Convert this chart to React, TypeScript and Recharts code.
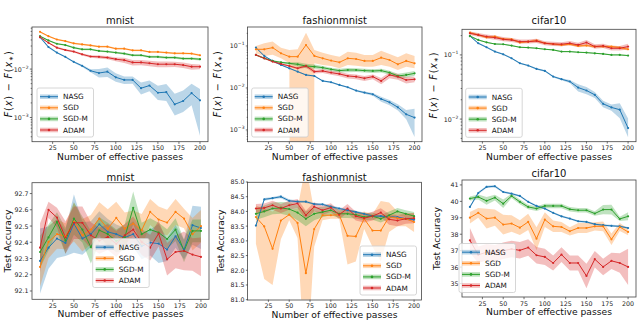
import React from 'react';
import { ComposedChart, Line, Area, XAxis, YAxis } from 'recharts';

// ---------- shared ----------
const PASSES = [10, 20, 30, 40, 50, 60, 70, 80, 90, 100, 110, 120, 130, 140, 150, 160, 170, 180, 190, 200];
const X_TICKS = [25, 50, 75, 100, 125, 150, 175, 200];
const NAMES = ['NASG', 'SGD', 'SGD-M', 'ADAM'];
const COLORS = ['#1f77b4', '#ff7f0e', '#2ca02c', '#d62728'];
const TITLES = ['mnist', 'fashionmnist', 'cifar10'];
const X_LABEL = 'Number of effective passes';
const ACC_LABEL = 'Test Accuracy';

// ---------- mnist loss (log) ----------
const mnistLossNasg = [0.0457, 0.0286, 0.0219, 0.0179, 0.0141, 0.0117, 0.00925, 0.00829, 0.00883, 0.00676, 0.00597, 0.00597, 0.00403, 0.00457, 0.00324, 0.00334, 0.00187, 0.00219, 0.00319, 0.00226];
const mnistLossNasgLo = [0.0435, 0.0272, 0.021, 0.0172, 0.0135, 0.0111, 0.0086, 0.0067, 0.0069, 0.0055, 0.0049, 0.005, 0.003, 0.0035, 0.0023, 0.0022, 0.0011, 0.0013, 0.0018, 0.00042];
const mnistLossNasgHi = [0.048, 0.03, 0.0228, 0.0186, 0.0147, 0.0123, 0.0099, 0.01, 0.0108, 0.0082, 0.007, 0.007, 0.0053, 0.0058, 0.0045, 0.0049, 0.0031, 0.0036, 0.005, 0.0039];
const mnistLossSgd = [0.0588, 0.0479, 0.0409, 0.0379, 0.034, 0.0324, 0.0309, 0.0291, 0.0291, 0.0264, 0.0264, 0.0244, 0.0244, 0.0226, 0.0226, 0.0219, 0.0212, 0.0212, 0.0209, 0.0193];
const mnistLossSgdLo = [0.0566, 0.0461, 0.0393, 0.0365, 0.0327, 0.0311, 0.0297, 0.028, 0.0279, 0.0253, 0.0253, 0.0234, 0.0234, 0.0217, 0.0217, 0.021, 0.0203, 0.0203, 0.02, 0.0184];
const mnistLossSgdHi = [0.061, 0.0497, 0.0425, 0.0393, 0.0353, 0.0337, 0.0321, 0.0302, 0.0303, 0.0275, 0.0275, 0.0254, 0.0254, 0.0235, 0.0235, 0.0228, 0.0221, 0.0221, 0.0218, 0.0202];
const mnistLossSgdm = [0.0479, 0.0391, 0.0334, 0.0314, 0.0277, 0.0256, 0.0256, 0.0237, 0.023, 0.0219, 0.0209, 0.0193, 0.0193, 0.0179, 0.0179, 0.0173, 0.0173, 0.0165, 0.0165, 0.016];
const mnistLossSgdmLo = [0.0461, 0.0377, 0.0322, 0.0302, 0.0266, 0.0246, 0.0245, 0.0227, 0.022, 0.0209, 0.0199, 0.0184, 0.0184, 0.017, 0.017, 0.0164, 0.0164, 0.0156, 0.0156, 0.0151];
const mnistLossSgdmHi = [0.0497, 0.0405, 0.0346, 0.0326, 0.0288, 0.0266, 0.0267, 0.0247, 0.024, 0.0229, 0.0219, 0.0202, 0.0202, 0.0188, 0.0188, 0.0182, 0.0182, 0.0174, 0.0174, 0.0169];
const mnistLossAdam = [0.0457, 0.035, 0.0277, 0.0248, 0.023, 0.0202, 0.0182, 0.0179, 0.0173, 0.016, 0.0153, 0.0137, 0.0137, 0.0132, 0.0126, 0.0126, 0.0126, 0.0121, 0.0112, 0.0112];
const mnistLossAdamLo = [0.0442, 0.0338, 0.0266, 0.0237, 0.0219, 0.0191, 0.0171, 0.0166, 0.016, 0.0146, 0.0134, 0.0119, 0.012, 0.0115, 0.0109, 0.0109, 0.011, 0.0105, 0.0097, 0.0099];
const mnistLossAdamHi = [0.0472, 0.0362, 0.0288, 0.0259, 0.0241, 0.0213, 0.0193, 0.0192, 0.0186, 0.0174, 0.0172, 0.0155, 0.0154, 0.0149, 0.0143, 0.0143, 0.0142, 0.0137, 0.0127, 0.0125];

// ---------- fashionmnist loss (log) ----------
const fashionLossNasg = [0.0912, 0.0578, 0.044, 0.0353, 0.0294, 0.0245, 0.0204, 0.0193, 0.0147, 0.0137, 0.0118, 0.0104, 0.00865, 0.00775, 0.00707, 0.00547, 0.00456, 0.00347, 0.00236, 0.00197];
const fashionLossNasgLo = [0.0875, 0.0556, 0.0425, 0.0341, 0.0284, 0.0236, 0.0196, 0.0186, 0.0141, 0.0132, 0.0113, 0.01, 0.0082, 0.0073, 0.0065, 0.0047, 0.0039, 0.0029, 0.0018, 0.00068];
const fashionLossNasgHi = [0.095, 0.06, 0.0455, 0.0365, 0.0304, 0.0254, 0.0212, 0.02, 0.0153, 0.0142, 0.0123, 0.0108, 0.0091, 0.0082, 0.0076, 0.0062, 0.0052, 0.0041, 0.003, 0.0032];
const fashionLossSgd = [0.0833, 0.0833, 0.0912, 0.0669, 0.0557, 0.0557, 0.1056, 0.0578, 0.0508, 0.0448, 0.0408, 0.0508, 0.049, 0.044, 0.044, 0.0527, 0.0464, 0.0366, 0.044, 0.0386];
const fashionLossSgdLo = [0.0669, 0.0578, 0.062, 0.0508, 0.0386, 0, 0, 0.0386, 0.0353, 0.0334, 0.0294, 0.0353, 0.034, 0.0322, 0.0322, 0.0353, 0.0322, 0.0268, 0.0322, 0.0294];
const fashionLossSgdHi = [0.1, 0.116, 0.127, 0.0912, 0.08, 0.0833, 0.2075, 0.08, 0.0693, 0.0611, 0.0557, 0.0733, 0.0693, 0.0611, 0.0611, 0.0774, 0.0645, 0.0537, 0.0669, 0.0578];
const fashionLossSgdm = [0.0611, 0.0508, 0.044, 0.0408, 0.0386, 0.0366, 0.0334, 0.0322, 0.0305, 0.0278, 0.0259, 0.0268, 0.0268, 0.0259, 0.0254, 0.0259, 0.0232, 0.0193, 0.0204, 0.0223];
const fashionLossSgdmLo = [0.0585, 0.0488, 0.042, 0.0388, 0.036, 0.0325, 0.0295, 0.0286, 0.0277, 0.0252, 0.0232, 0.0238, 0.024, 0.0233, 0.0228, 0.0233, 0.0207, 0.0168, 0.0178, 0.0192];
const fashionLossSgdmHi = [0.064, 0.053, 0.046, 0.0428, 0.0412, 0.041, 0.0375, 0.036, 0.0335, 0.0305, 0.0288, 0.0298, 0.0295, 0.0285, 0.028, 0.0285, 0.0258, 0.0218, 0.0232, 0.0255];
const fashionLossAdam = [0.0611, 0.0508, 0.0424, 0.0373, 0.0334, 0.0294, 0.0334, 0.0245, 0.0254, 0.0232, 0.0216, 0.0193, 0.0186, 0.017, 0.0186, 0.0147, 0.0204, 0.0186, 0.0155, 0.0161];
const fashionLossAdamLo = [0.0585, 0.0488, 0.0406, 0.0354, 0.0316, 0.0278, 0.0303, 0.022, 0.0228, 0.0207, 0.019, 0.0168, 0.0162, 0.0146, 0.0162, 0.0122, 0.017, 0.0157, 0.0128, 0.0137];
const fashionLossAdamHi = [0.064, 0.053, 0.0442, 0.0392, 0.0352, 0.031, 0.0365, 0.027, 0.028, 0.0257, 0.0242, 0.0218, 0.021, 0.0194, 0.021, 0.0172, 0.0238, 0.0215, 0.0182, 0.0185];

// ---------- cifar10 loss (log) ----------
const cifarLossNasg = [0.197, 0.152, 0.1316, 0.1127, 0.1023, 0.0887, 0.0742, 0.0682, 0.0606, 0.0564, 0.046, 0.0418, 0.0385, 0.031, 0.0279, 0.0239, 0.0173, 0.0152, 0.014, 0.00724];
const cifarLossNasgLo = [0.192, 0.148, 0.128, 0.1097, 0.0996, 0.0864, 0.0722, 0.0664, 0.0587, 0.0548, 0.0445, 0.0404, 0.0365, 0.027, 0.0243, 0.0214, 0.0153, 0.0135, 0.0103, 0.0052];
const cifarLossNasgHi = [0.202, 0.156, 0.135, 0.1157, 0.105, 0.091, 0.0762, 0.07, 0.0625, 0.058, 0.0475, 0.0432, 0.0405, 0.035, 0.0315, 0.0264, 0.0193, 0.0169, 0.0177, 0.0102];
const cifarLossSgd = [0.222, 0.205, 0.188, 0.193, 0.177, 0.175, 0.156, 0.161, 0.167, 0.152, 0.148, 0.143, 0.1466, 0.138, 0.1396, 0.1349, 0.1349, 0.1349, 0.13, 0.1225];
const cifarLossSgdLo = [0.213, 0.197, 0.18, 0.185, 0.17, 0.168, 0.15, 0.155, 0.158, 0.146, 0.142, 0.137, 0.141, 0.132, 0.134, 0.129, 0.129, 0.129, 0.124, 0.117];
const cifarLossSgdHi = [0.231, 0.213, 0.196, 0.202, 0.184, 0.182, 0.163, 0.168, 0.177, 0.159, 0.154, 0.149, 0.153, 0.144, 0.146, 0.141, 0.141, 0.141, 0.136, 0.128];
const cifarLossSgdm = [0.197, 0.171, 0.157, 0.148, 0.1466, 0.1396, 0.1316, 0.13, 0.127, 0.1225, 0.1197, 0.1127, 0.1127, 0.11, 0.1087, 0.106, 0.1037, 0.1, 0.1, 0.0977];
const cifarLossSgdmLo = [0.193, 0.168, 0.154, 0.145, 0.1437, 0.1368, 0.129, 0.1274, 0.1245, 0.12, 0.1173, 0.1104, 0.1104, 0.1078, 0.1065, 0.1039, 0.1016, 0.098, 0.098, 0.0957];
const cifarLossSgdmHi = [0.201, 0.175, 0.16, 0.151, 0.1495, 0.1424, 0.1342, 0.1326, 0.1295, 0.125, 0.1221, 0.115, 0.115, 0.1122, 0.1109, 0.1081, 0.1058, 0.102, 0.102, 0.0997];
const cifarLossAdam = [0.217, 0.205, 0.193, 0.186, 0.175, 0.171, 0.161, 0.161, 0.165, 0.152, 0.148, 0.1466, 0.152, 0.143, 0.156, 0.1349, 0.138, 0.127, 0.127, 0.1349];
const cifarLossAdamLo = [0.204, 0.192, 0.18, 0.173, 0.163, 0.159, 0.15, 0.15, 0.153, 0.141, 0.138, 0.136, 0.141, 0.133, 0.143, 0.125, 0.128, 0.117, 0.117, 0.122];
const cifarLossAdamHi = [0.232, 0.219, 0.208, 0.2, 0.19, 0.184, 0.174, 0.174, 0.178, 0.164, 0.16, 0.158, 0.165, 0.155, 0.171, 0.146, 0.149, 0.138, 0.138, 0.149];

// ---------- mnist accuracy ----------
const mnistAccNasg = [92.285, 92.367, 92.423, 92.396, 92.515, 92.423, 92.45, 92.511, 92.464, 92.45, 92.429, 92.45, 92.376, 92.398, 92.392, 92.355, 92.437, 92.355, 92.505, 92.488];
const mnistAccNasgLo = [92.085, 92.237, 92.303, 92.316, 92.335, 92.323, 92.37, 92.431, 92.384, 92.39, 92.369, 92.37, 92.296, 92.318, 92.272, 92.285, 92.367, 92.295, 92.385, 92.358];
const mnistAccNasgHi = [92.485, 92.497, 92.543, 92.476, 92.695, 92.523, 92.53, 92.591, 92.544, 92.51, 92.489, 92.53, 92.456, 92.478, 92.512, 92.425, 92.507, 92.415, 92.625, 92.618];
const mnistAccSgd = [92.248, 92.402, 92.45, 92.437, 92.525, 92.443, 92.478, 92.546, 92.484, 92.55, 92.484, 92.515, 92.474, 92.587, 92.54, 92.521, 92.587, 92.546, 92.45, 92.499];
const mnistAccSgdLo = [92.128, 92.302, 92.36, 92.357, 92.405, 92.343, 92.388, 92.446, 92.364, 92.45, 92.384, 92.435, 92.374, 92.507, 92.46, 92.441, 92.507, 92.486, 92.35, 92.399];
const mnistAccSgdHi = [92.368, 92.502, 92.54, 92.517, 92.645, 92.543, 92.568, 92.646, 92.604, 92.65, 92.584, 92.595, 92.574, 92.667, 92.62, 92.601, 92.667, 92.606, 92.55, 92.599];
const mnistAccSgdm = [92.34, 92.43, 92.525, 92.41, 92.546, 92.478, 92.37, 92.474, 92.45, 92.408, 92.43, 92.612, 92.45, 92.478, 92.46, 92.42, 92.478, 92.347, 92.47, 92.47];
const mnistAccSgdmLo = [92.24, 92.35, 92.465, 92.33, 92.446, 92.398, 92.27, 92.394, 92.38, 92.338, 92.35, 92.512, 92.38, 92.408, 92.4, 92.36, 92.408, 92.277, 92.4, 92.4];
const mnistAccSgdmHi = [92.44, 92.51, 92.585, 92.49, 92.646, 92.558, 92.47, 92.554, 92.52, 92.478, 92.51, 92.712, 92.52, 92.548, 92.52, 92.48, 92.548, 92.417, 92.54, 92.54];
const mnistAccAdam = [92.367, 92.6, 92.552, 92.43, 92.52, 92.52, 92.443, 92.41, 92.433, 92.39, 92.443, 92.478, 92.402, 92.367, 92.454, 92.295, 92.34, 92.347, 92.324, 92.31];
const mnistAccAdamLo = [92.217, 92.55, 92.492, 92.33, 92.42, 92.42, 92.363, 92.33, 92.353, 92.31, 92.373, 92.398, 92.322, 92.287, 92.374, 92.195, 92.24, 92.227, 92.224, 92.19];
const mnistAccAdamHi = [92.517, 92.65, 92.612, 92.53, 92.62, 92.62, 92.523, 92.49, 92.513, 92.47, 92.513, 92.558, 92.482, 92.447, 92.534, 92.395, 92.44, 92.467, 92.424, 92.43];

// ---------- fashionmnist accuracy ----------
const fashionAccNasg = [83.52, 84.41, 84.45, 84.5, 84.36, 84.33, 84.33, 84.25, 84.24, 84.16, 84.1, 84.04, 83.98, 83.92, 83.84, 83.84, 83.81, 83.81, 83.75, 83.72];
const fashionAccNasgLo = [83.46, 84.36, 84.41, 84.45, 84.31, 84.29, 84.29, 84.21, 84.2, 84.12, 84.06, 84.0, 83.94, 83.88, 83.8, 83.8, 83.77, 83.77, 83.71, 83.67];
const fashionAccNasgHi = [83.58, 84.46, 84.49, 84.55, 84.41, 84.37, 84.37, 84.29, 84.28, 84.2, 84.14, 84.08, 84.02, 83.96, 83.88, 83.88, 83.85, 83.85, 83.79, 83.77];
const fashionAccSgd = [83.81, 83.49, 82.73, 83.69, 83.89, 83.61, 81.9, 83.4, 83.87, 83.87, 83.89, 83.17, 83.15, 83.75, 83.35, 83.35, 83.81, 83.77, 83.75, 83.64];
const fashionAccSgdLo = [82.9, 81.7, 81.5, 83.05, 83.7, 83.1, 78.2, 82.8, 83.7, 83.75, 83.75, 82.2, 82.3, 83.4, 82.8, 82.3, 83.3, 83.5, 83.5, 83.3];
const fashionAccSgdHi = [84.2, 84.1, 84.0, 84.2, 84.05, 84.1, 85.6, 84.0, 84.0, 84.0, 84.0, 84.0, 83.9, 84.0, 83.9, 84.35, 84.3, 84.0, 83.95, 83.95];
const fashionAccSgdm = [83.92, 84.0, 84.1, 84.12, 84.08, 83.96, 83.75, 83.92, 83.98, 84.04, 83.92, 83.92, 83.89, 83.81, 83.84, 83.75, 83.87, 84.0, 83.92, 83.84];
const fashionAccSgdmLo = [83.72, 83.8, 83.9, 83.92, 83.85, 83.7, 83.5, 83.7, 83.8, 83.88, 83.78, 83.78, 83.76, 83.7, 83.72, 83.62, 83.74, 83.88, 83.8, 83.7];
const fashionAccSgdmHi = [84.12, 84.2, 84.3, 84.32, 84.31, 84.22, 84.0, 84.14, 84.16, 84.2, 84.06, 84.06, 84.02, 83.92, 83.96, 83.88, 84.0, 84.12, 84.04, 83.98];
const fashionAccAdam = [84.1, 84.12, 84.21, 84.1, 84.21, 84.27, 83.87, 84.16, 84.04, 84.13, 83.89, 84.1, 83.84, 83.77, 83.84, 83.96, 83.73, 83.69, 83.75, 83.77];
const fashionAccAdamLo = [83.95, 83.97, 84.06, 83.95, 84.06, 84.12, 83.72, 84.01, 83.89, 83.98, 83.74, 83.95, 83.69, 83.62, 83.69, 83.81, 83.55, 83.5, 83.58, 83.6];
const fashionAccAdamHi = [84.25, 84.27, 84.36, 84.25, 84.36, 84.42, 84.02, 84.31, 84.19, 84.28, 84.04, 84.25, 83.99, 83.92, 83.99, 84.11, 83.91, 83.88, 83.92, 83.94];

// ---------- cifar10 accuracy ----------
const cifarAccNasg = [39.66, 40.51, 40.88, 40.92, 40.57, 40.47, 40.33, 39.97, 39.72, 39.56, 39.3, 39.09, 38.95, 38.79, 38.75, 38.61, 38.55, 38.51, 38.48, 38.38];
const cifarAccNasgLo = [39.58, 40.43, 40.81, 40.85, 40.51, 40.41, 40.27, 39.91, 39.66, 39.5, 39.24, 39.03, 38.89, 38.73, 38.69, 38.55, 38.49, 38.45, 38.42, 38.32];
const cifarAccNasgHi = [39.74, 40.59, 40.95, 40.99, 40.63, 40.53, 40.39, 40.03, 39.78, 39.62, 39.36, 39.15, 39.01, 38.85, 38.81, 38.67, 38.61, 38.57, 38.54, 38.44];
const cifarAccSgd = [39.01, 39.3, 38.95, 39.01, 38.59, 38.65, 38.4, 38.75, 37.73, 38.89, 38.48, 38.44, 38.18, 38.38, 38.38, 38.48, 38.48, 37.69, 38.44, 38.14];
const cifarAccSgdLo = [38.66, 39.0, 38.35, 38.51, 37.99, 38.15, 37.95, 38.25, 37.03, 38.44, 38.13, 38.14, 37.93, 38.08, 38.08, 38.23, 38.18, 37.34, 38.19, 37.94];
const cifarAccSgdHi = [39.36, 39.6, 39.55, 39.51, 39.19, 39.15, 38.85, 39.25, 38.43, 39.34, 38.83, 38.74, 38.43, 38.68, 38.68, 38.73, 38.78, 38.04, 38.69, 38.34];
const cifarAccSgdm = [40.17, 40.27, 40.03, 40.23, 39.86, 40.33, 39.97, 39.66, 39.56, 39.72, 39.72, 39.72, 39.52, 39.46, 39.46, 39.26, 39.5, 39.5, 38.93, 39.09];
const cifarAccSgdmLo = [40.05, 40.12, 39.8, 40.05, 39.6, 40.2, 39.82, 39.52, 39.42, 39.58, 39.58, 39.58, 39.38, 39.32, 39.32, 39.12, 39.22, 39.2, 38.8, 38.85];
const cifarAccSgdmHi = [40.29, 40.42, 40.26, 40.41, 40.12, 40.46, 40.12, 39.8, 39.7, 39.86, 39.86, 39.86, 39.66, 39.6, 39.6, 39.4, 39.78, 39.8, 39.06, 39.33];
const cifarAccAdam = [37.63, 36.75, 36.9, 36.85, 37.0, 37.1, 37.02, 37.19, 36.72, 36.62, 36.25, 36.76, 36.25, 36.25, 35.46, 36.48, 36.01, 36.38, 36.25, 36.01];
const cifarAccAdamLo = [36.88, 36.25, 36.4, 36.35, 36.5, 36.6, 36.52, 36.69, 36.22, 36.12, 35.8, 36.31, 35.8, 35.8, 34.71, 35.98, 35.51, 35.88, 35.65, 34.91];
const cifarAccAdamHi = [38.38, 37.25, 37.4, 37.35, 37.5, 37.6, 37.52, 37.69, 37.22, 37.12, 36.7, 37.21, 36.7, 36.7, 36.21, 36.98, 36.51, 36.88, 36.85, 37.11];

// ---------- tick labels ----------
const LOSS_MAJOR_MNIST = [1e-3, 1e-2];
const LOSS_MAJOR_FASHION = [1e-3, 1e-2, 1e-1];
const LOSS_MAJOR_CIFAR = [1e-2, 1e-1];
const ACC_TICKS_MNIST = [92.1, 92.2, 92.3, 92.4, 92.5, 92.6, 92.7];
const ACC_TICKS_FASHION = [81.0, 81.5, 82.0, 82.5, 83.0, 83.5, 84.0, 84.5, 85.0];
const ACC_TICKS_CIFAR = [35, 36, 37, 38, 39, 40, 41];

// ---------- helpers ----------
type S = { mean: number[]; lo: number[]; hi: number[] };
const FONT = '"DejaVu Sans", sans-serif';

function buildRows(series: S[], log: boolean) {
  return PASSES.map((x, i) => {
    const row: any = { x };
    series.forEach((s, k) => {
      row['m' + k] = s.mean[i];
      const lo = log && !(s.lo[i] > 0) ? 1e-60 : s.lo[i];
      row['b' + k] = [lo, s.hi[i]];
    });
    return row;
  });
}

function withMinors(majors: number[], domain: [number, number]) {
  const out: number[] = [];
  const decades = [1e-5, 1e-4, 1e-3, 1e-2, 1e-1, 1];
  decades.forEach((d) => {
    for (let m = 1; m <= 9; m++) {
      const v = +(m * d).toPrecision(6);
      if (v >= domain[0] && v <= domain[1]) out.push(v);
    }
  });
  majors.forEach((v) => { if (!out.includes(v)) out.push(v); });
  return out.sort((a, b) => a - b);
}

type Box = { x: number; y: number; w: number; h: number };
type Panel = {
  box: Box;
  title: string;
  titleY: number;
  log: boolean;
  domain: [number, number];
  majors: number[];
  fmt: (v: number) => string;
  series: S[];
  yLabel: 'loss' | 'acc';
  yLabelX: number;
  legend: { x: number; y: number };
};

const LEFT_W = 30;
const TOP_M = 5;
const RIGHT_M = 5;
const BOTTOM_H = 14;

function logLabel(v: number) {
  return String(Math.abs(Math.round(Math.log10(v))));
}

function PanelChart({ p }: { p: Panel }) {
  const data = buildRows(p.series, p.log);
  const ticks = p.log ? withMinors(p.majors, p.domain) : p.majors;
  const W = p.box.w + LEFT_W + RIGHT_M;
  const H = p.box.h + TOP_M + BOTTOM_H;
  const yTick = (props: any) => {
    const { x, y, payload } = props;
    const v = payload.value;
    const major = p.majors.some((m) => Math.abs(m - v) <= Math.abs(m) * 1e-9);
    return (
      <g>
        <line x1={x - (major ? 2.2 : 1.3)} x2={x} y1={y} y2={y} stroke="#333" strokeWidth={0.7} />
        {major && (p.log ? (
          <text x={x - 3.5} y={y} textAnchor="end" dominantBaseline="central" fontSize={6.3} fontFamily={FONT} fill="#222">
            10<tspan fontSize={4.5} dy={-2.5}>{'\u2212' + logLabel(v)}</tspan>
          </text>
        ) : (
          <text x={x - 3.5} y={y} textAnchor="end" dominantBaseline="central" fontSize={6.3} fontFamily={FONT} fill="#222">
            {p.fmt(v)}
          </text>
        ))}
      </g>
    );
  };
  const xTick = (props: any) => {
    const { x, y, payload } = props;
    return (
      <g>
        <line x1={x} x2={x} y1={y} y2={y + 2.2} stroke="#333" strokeWidth={0.7} />
        <text x={x} y={y + 6} textAnchor="middle" dominantBaseline="central" fontSize={6.3} fontFamily={FONT} fill="#222">
          {payload.value}
        </text>
      </g>
    );
  };
  return (
    <div style={{ position: 'absolute', left: p.box.x - LEFT_W, top: p.box.y - TOP_M, width: W, height: H }}>
      <ComposedChart width={W} height={H} data={data} margin={{ top: TOP_M, right: RIGHT_M, left: 0, bottom: 0 }}>
        <XAxis
          dataKey="x"
          type="number"
          domain={[0.5, 209.5]}
          ticks={X_TICKS}
          interval={0}
          allowDataOverflow
          axisLine={false}
          tickLine={false}
          tickSize={0}
          tickMargin={0}
          height={BOTTOM_H}
          tick={xTick}
        />
        <YAxis
          type="number"
          scale={p.log ? 'log' : 'linear'}
          domain={p.domain}
          ticks={ticks}
          interval={0}
          allowDataOverflow
          axisLine={false}
          tickLine={false}
          tickSize={0}
          tickMargin={0}
          width={LEFT_W}
          tick={yTick}
        />
        {p.series.map((s, k) => [
          <Area
            key={'a' + k}
            dataKey={'b' + k}
            stroke="none"
            fill={COLORS[k]}
            fillOpacity={0.3}
            isAnimationActive={false}
            dot={false}
            activeDot={false}
          />,
          <Line
            key={'l' + k}
            dataKey={'m' + k}
            stroke={COLORS[k]}
            strokeWidth={1}
            dot={{ r: 1.1, fill: COLORS[k], stroke: COLORS[k], strokeWidth: 0 }}
            activeDot={false}
            isAnimationActive={false}
          />,
        ])}
      </ComposedChart>
    </div>
  );
}

function Overlay({ panels }: { panels: Panel[] }) {
  return (
    <svg width={640} height={320} style={{ position: 'absolute', left: 0, top: 0, pointerEvents: 'none' }}>
      {panels.map((p, i) => {
        const cx = p.box.x + p.box.w / 2;
        const cy = p.box.y + p.box.h / 2;
        const bottom = p.box.y + p.box.h;
        return (
          <g key={i} fontFamily={FONT}>
            <rect x={p.box.x} y={p.box.y} width={p.box.w} height={p.box.h} fill="none" stroke="#444" strokeWidth={0.8} />
            <text x={cx} y={p.titleY} textAnchor="middle" dominantBaseline="central" fontSize={10} fill="#111">{p.title}</text>
            <text x={cx} y={bottom + 14.6} textAnchor="middle" dominantBaseline="central" fontSize={9.2} fill="#111">{X_LABEL}</text>
            {p.yLabel === 'acc' ? (
              <text transform={`translate(${p.yLabelX},${cy}) rotate(-90)`} textAnchor="middle" dominantBaseline="central" fontSize={9.2} fill="#111">{ACC_LABEL}</text>
            ) : (
              <text transform={`translate(${p.yLabelX},${cy}) rotate(-90)`} textAnchor="middle" dominantBaseline="central" fontSize={9.6} fill="#111" textLength={66} lengthAdjust="spacing">
                <tspan fontStyle="italic">F</tspan>(<tspan fontStyle="italic">x</tspan>) {'\u2212'} <tspan fontStyle="italic">F</tspan>(<tspan fontStyle="italic">x</tspan><tspan fontSize={6} dy={2}>{'\u2217'}</tspan><tspan dy={-2}>)</tspan>
              </text>
            )}
            <g>
              <rect x={p.legend.x} y={p.legend.y} width={56.5} height={49} rx={2} fill="#fff" fillOpacity={0.8} stroke="#ccc" strokeWidth={0.8} />
              {NAMES.map((n, k) => {
                const ly = p.legend.y + 8.7 + k * 11.1;
                return (
                  <g key={n}>
                    <rect x={p.legend.x + 3} y={ly - 2.3} width={18} height={4.6} fill={COLORS[k]} fillOpacity={0.3} />
                    <line x1={p.legend.x + 3} x2={p.legend.x + 21} y1={ly} y2={ly} stroke={COLORS[k]} strokeWidth={1} />
                    <circle cx={p.legend.x + 12} cy={ly} r={1.3} fill={COLORS[k]} />
                    <text x={p.legend.x + 26} y={ly} dominantBaseline="central" fontSize={7.3} fill="#111">{n}</text>
                  </g>
                );
              })}
            </g>
          </g>
        );
      })}
    </svg>
  );
}

const mk = (mean: number[], lo: number[], hi: number[]): S => ({ mean, lo, hi });

export default function App() {
  const panels: Panel[] = [
    {
      box: { x: 32, y: 27, w: 176, h: 114.7 }, title: TITLES[0], titleY: 20.5, log: true,
      domain: [3.16e-4, 0.0741], majors: LOSS_MAJOR_MNIST, fmt: String,
      series: [
        mk(mnistLossNasg, mnistLossNasgLo, mnistLossNasgHi),
        mk(mnistLossSgd, mnistLossSgdLo, mnistLossSgdHi),
        mk(mnistLossSgdm, mnistLossSgdmLo, mnistLossSgdmHi),
        mk(mnistLossAdam, mnistLossAdamLo, mnistLossAdamHi),
      ],
      yLabel: 'loss', yLabelX: 8, legend: { x: 37, y: 88 },
    },
    {
      box: { x: 247.5, y: 27, w: 174.5, h: 114.7 }, title: TITLES[1], titleY: 20.5, log: true,
      domain: [5.26e-4, 0.283], majors: LOSS_MAJOR_FASHION, fmt: String,
      series: [
        mk(fashionLossNasg, fashionLossNasgLo, fashionLossNasgHi),
        mk(fashionLossSgd, fashionLossSgdLo, fashionLossSgdHi),
        mk(fashionLossSgdm, fashionLossSgdmLo, fashionLossSgdmHi),
        mk(fashionLossAdam, fashionLossAdamLo, fashionLossAdamHi),
      ],
      yLabel: 'loss', yLabelX: 217, legend: { x: 251.7, y: 88 },
    },
    {
      box: { x: 462, y: 29.3, w: 174, h: 112.4 }, title: TITLES[2], titleY: 20.5, log: true,
      domain: [4.49e-3, 0.2535], majors: LOSS_MAJOR_CIFAR, fmt: String,
      series: [
        mk(cifarLossNasg, cifarLossNasgLo, cifarLossNasgHi),
        mk(cifarLossSgd, cifarLossSgdLo, cifarLossSgdHi),
        mk(cifarLossSgdm, cifarLossSgdmLo, cifarLossSgdmHi),
        mk(cifarLossAdam, cifarLossAdamLo, cifarLossAdamHi),
      ],
      yLabel: 'loss', yLabelX: 433, legend: { x: 465.7, y: 88.3 },
    },
    {
      box: { x: 32, y: 182.7, w: 177, h: 116.6 }, title: TITLES[0], titleY: 177.3, log: false,
      domain: [92.047, 92.765], majors: ACC_TICKS_MNIST, fmt: (v) => v.toFixed(1),
      series: [
        mk(mnistAccNasg, mnistAccNasgLo, mnistAccNasgHi),
        mk(mnistAccSgd, mnistAccSgdLo, mnistAccSgdHi),
        mk(mnistAccSgdm, mnistAccSgdmLo, mnistAccSgdmHi),
        mk(mnistAccAdam, mnistAccAdamLo, mnistAccAdamHi),
      ],
      yLabel: 'acc', yLabelX: 7.5, legend: { x: 92.7, y: 238.5 },
    },
    {
      box: { x: 247.5, y: 182.3, w: 174, h: 117.7 }, title: TITLES[1], titleY: 177.3, log: false,
      domain: [81, 85], majors: ACC_TICKS_FASHION, fmt: (v) => v.toFixed(1),
      series: [
        mk(fashionAccNasg, fashionAccNasgLo, fashionAccNasgHi),
        mk(fashionAccSgd, fashionAccSgdLo, fashionAccSgdHi),
        mk(fashionAccSgdm, fashionAccSgdmLo, fashionAccSgdmHi),
        mk(fashionAccAdam, fashionAccAdamLo, fashionAccAdamHi),
      ],
      yLabel: 'acc', yLabelX: 220.7, legend: { x: 360, y: 246 },
    },
    {
      box: { x: 462, y: 180, w: 174, h: 117 }, title: TITLES[2], titleY: 173.3, log: false,
      domain: [34.18, 41.3], majors: ACC_TICKS_CIFAR, fmt: (v) => String(v),
      series: [
        mk(cifarAccNasg, cifarAccNasgLo, cifarAccNasgHi),
        mk(cifarAccSgd, cifarAccSgdLo, cifarAccSgdHi),
        mk(cifarAccSgdm, cifarAccSgdmLo, cifarAccSgdmHi),
        mk(cifarAccAdam, cifarAccAdamLo, cifarAccAdamHi),
      ],
      yLabel: 'acc', yLabelX: 436, legend: { x: 459, y: 243.5 },
    },
  ];
  return (
    <div style={{ position: 'absolute', left: 0, top: 0, width: 640, height: 320, background: '#fff', overflow: 'hidden' }}>
      {panels.map((p, i) => <PanelChart key={i} p={p} />)}
      <Overlay panels={panels} />
    </div>
  );
}
